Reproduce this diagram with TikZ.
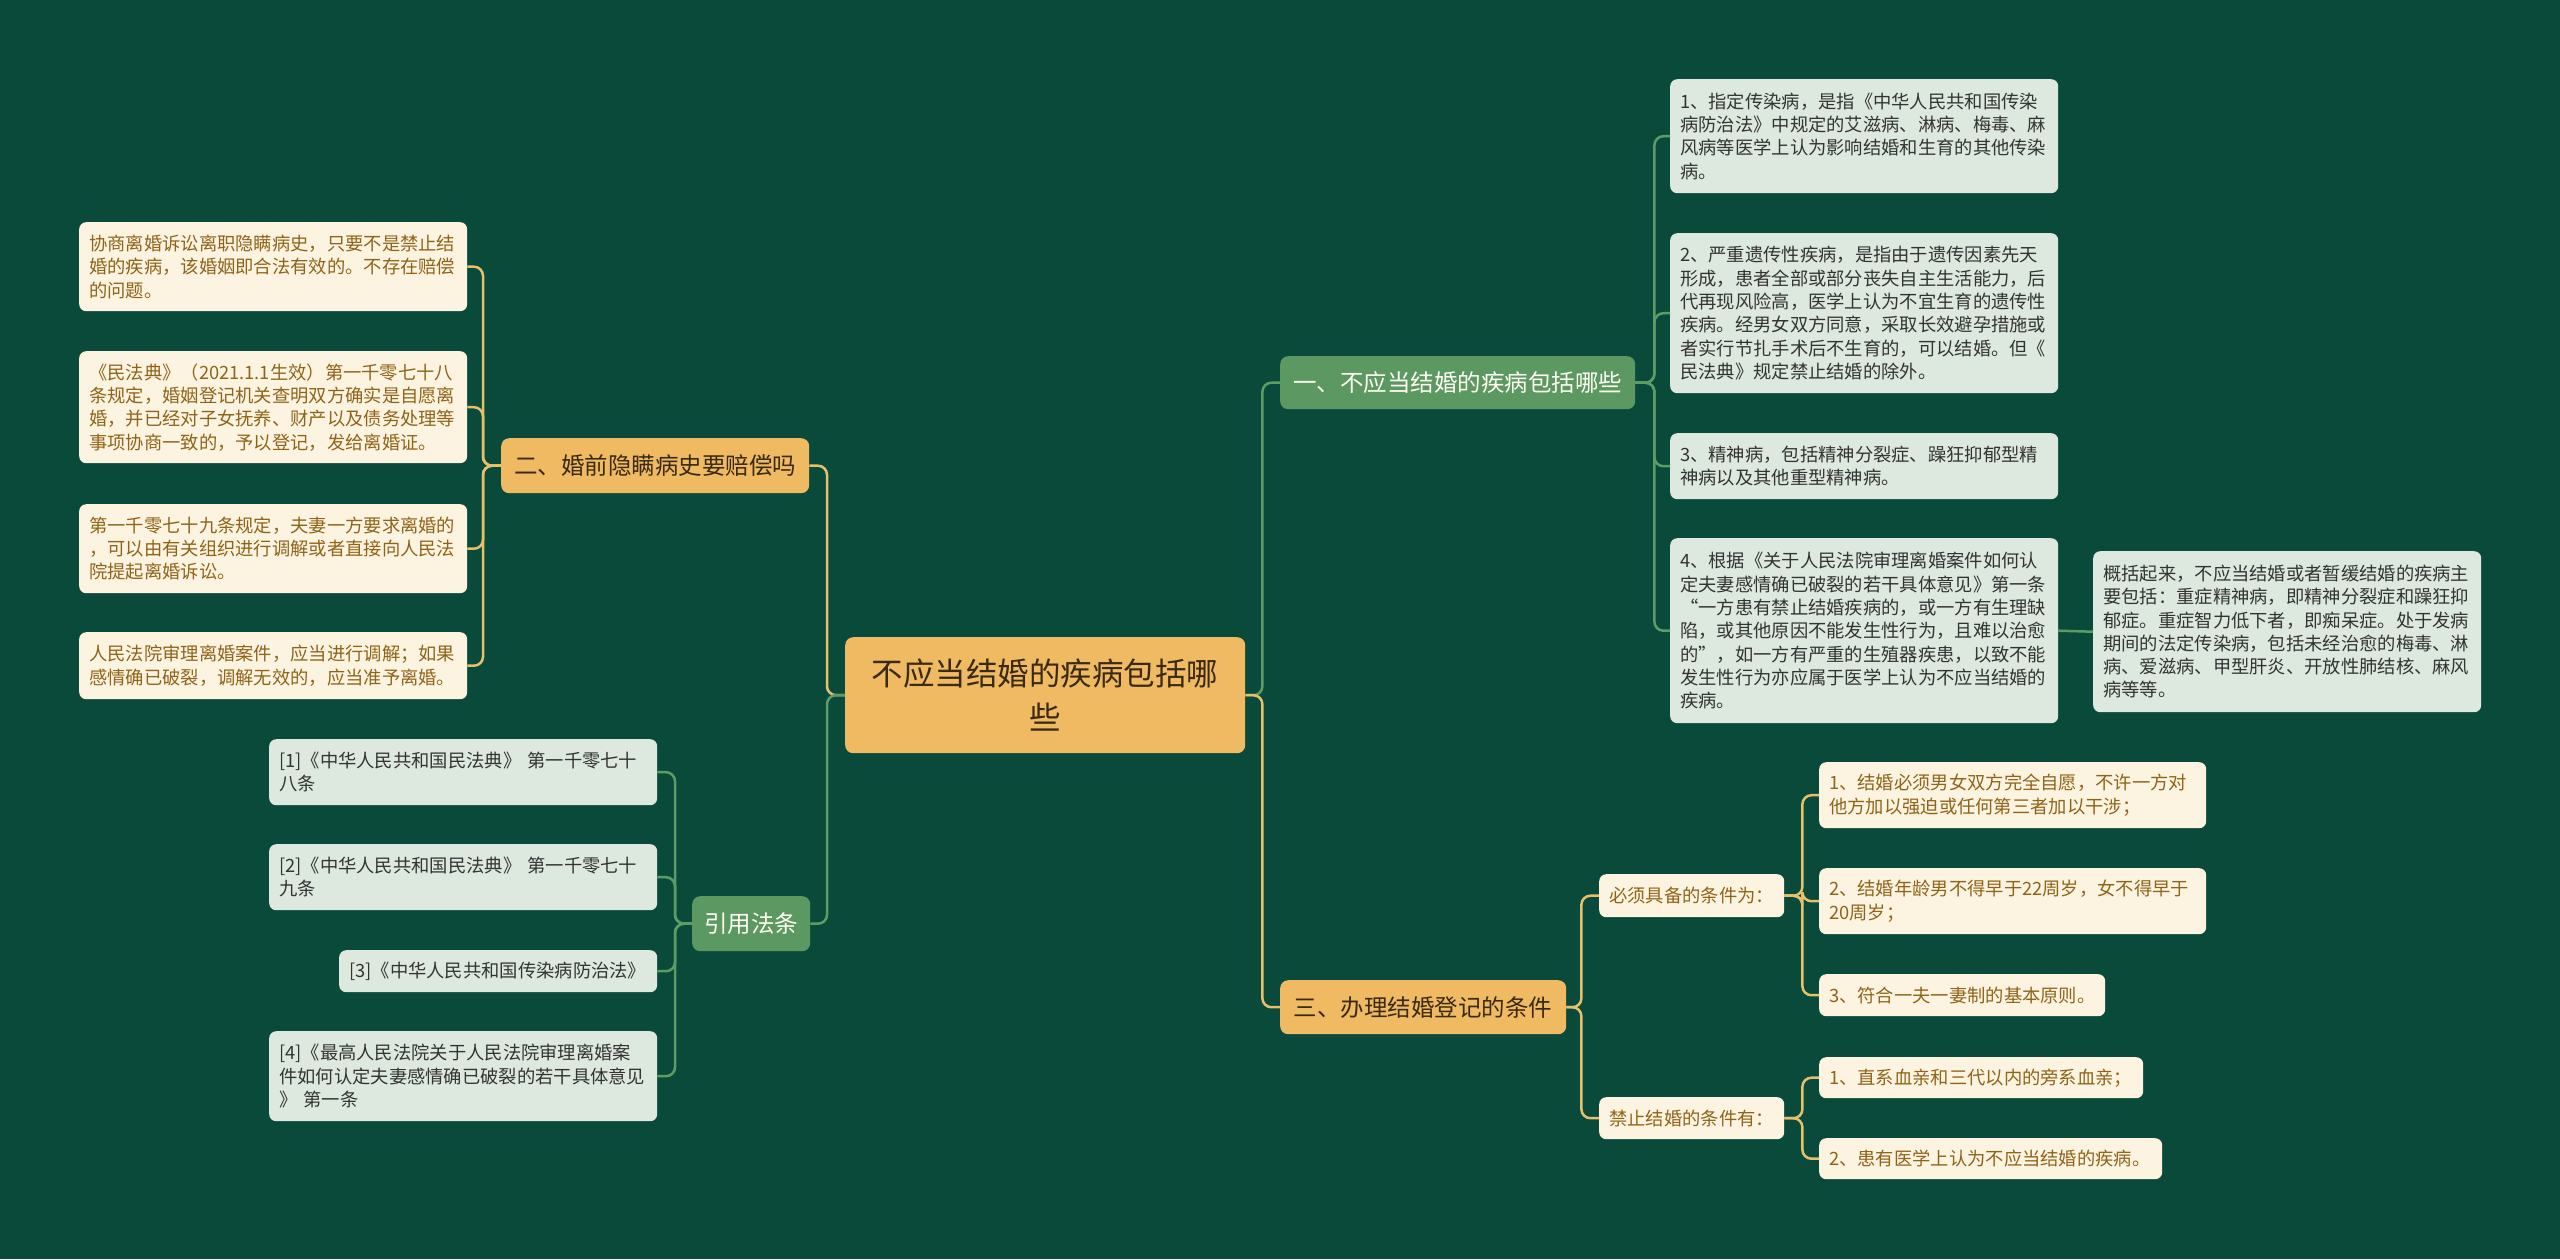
\documentclass[tikz,border=0pt]{standalone}
\usepackage{fontspec}
\setmainfont{Noto Sans CJK SC}
\usepackage{tikz}
\usepackage{xcolor}
\usetikzlibrary{positioning}
\definecolor{bg}{HTML}{0A4A3A}
\definecolor{orng}{HTML}{F0BA62}
\definecolor{grn}{HTML}{5B9862}
\definecolor{pale}{HTML}{DDE9DF}
\definecolor{cream}{HTML}{FDF3E1}
\definecolor{goldtxt}{HTML}{8F6418}
\definecolor{darktxt}{HTML}{3A2A12}
\definecolor{goldln}{HTML}{E6C06A}
\definecolor{grnln}{HTML}{5E9C66}
\tikzset{
  box/.style={anchor=north west,rounded corners=7pt,inner xsep=10pt,inner ysep=0pt,align=left,font=\fontsize{18.3}{23.3}\selectfont},
  pbox/.style={box,fill=pale,text=black!80},
  cbox/.style={box,fill=cream,text=goldtxt},
  obox/.style={anchor=north west,rounded corners=8pt,fill=orng,text=darktxt,inner sep=0pt,align=center,font=\fontsize{23.5}{28}\selectfont},
  gbox/.style={obox,fill=grn,text=white!95!yellow},
  goldlink/.style={draw=goldln,line width=2.5pt,rounded corners=9pt},
  grnlink/.style={draw=grnln,line width=2.5pt,rounded corners=9pt}
}

\begin{document}
\begin{tikzpicture}[x=1pt,y=-1pt]
\fill[bg] (0,0) rectangle (2560,1259);
\useasboundingbox (0,0) rectangle (2560,1259);

\node[obox,minimum width=400,minimum height=116,font=\fontsize{31.5}{44}\selectfont] (root) at (845,637) {不应当结婚的疾病包括哪\\些};

\node[gbox,minimum width=355,minimum height=53] (b1) at (1280,356) {一、不应当结婚的疾病包括哪些};
\node[obox,minimum width=308,minimum height=55] (b2) at (501,438) {二、婚前隐瞒病史要赔偿吗};
\node[obox,minimum width=286,minimum height=54] (b3) at (1280,980) {三、办理结婚登记的条件};
\node[gbox,minimum width=118,minimum height=55] (cite) at (692,896) {引用法条};

\node[pbox,text width=368pt,minimum height=114] (c1) at (1670,79) {1、指定传染病，是指《中华人民共和国传染\\病防治法》中规定的艾滋病、淋病、梅毒、麻\\风病等医学上认为影响结婚和生育的其他传染\\病。};
\node[pbox,text width=368pt,minimum height=160] (c2) at (1670,233) {2、严重遗传性疾病，是指由于遗传因素先天\\形成，患者全部或部分丧失自主生活能力，后\\代再现风险高，医学上认为不宜生育的遗传性\\疾病。经男女双方同意，采取长效避孕措施或\\者实行节扎手术后不生育的，可以结婚。但《\\民法典》规定禁止结婚的除外。};
\node[pbox,text width=368pt,minimum height=66] (c3) at (1670,433) {3、精神病，包括精神分裂症、躁狂抑郁型精\\神病以及其他重型精神病。};
\node[pbox,text width=368pt,minimum height=185] (c4) at (1670,538) {4、根据《关于人民法院审理离婚案件如何认\\定夫妻感情确已破裂的若干具体意见》第一条\\“一方患有禁止结婚疾病的，或一方有生理缺\\陷，或其他原因不能发生性行为，且难以治愈\\的”，如一方有严重的生殖器疾患，以致不能\\发生性行为亦应属于医学上认为不应当结婚的\\疾病。};
\node[pbox,text width=368pt,minimum height=161] (summ) at (2093,551) {概括起来，不应当结婚或者暂缓结婚的疾病主\\要包括：重症精神病，即精神分裂症和躁狂抑\\郁症。重症智力低下者，即痴呆症。处于发病\\期间的法定传染病，包括未经治愈的梅毒、淋\\病、爱滋病、甲型肝炎、开放性肺结核、麻风\\病等等。};

\node[cbox,text width=368pt,minimum height=89] (l1) at (79,222) {协商离婚诉讼离职隐瞒病史，只要不是禁止结\\婚的疾病，该婚姻即合法有效的。不存在赔偿\\的问题。};
\node[cbox,text width=368pt,minimum height=112] (l2) at (79,351) {《民法典》（2021.1.1生效）第一千零七十八\\条规定，婚姻登记机关查明双方确实是自愿离\\婚，并已经对子女抚养、财产以及债务处理等\\事项协商一致的，予以登记，发给离婚证。};
\node[cbox,text width=368pt,minimum height=89] (l3) at (79,504) {第一千零七十九条规定，夫妻一方要求离婚的\\，可以由有关组织进行调解或者直接向人民法\\院提起离婚诉讼。};
\node[cbox,text width=368pt,minimum height=67] (l4) at (79,632) {人民法院审理离婚案件，应当进行调解；如果\\感情确已破裂，调解无效的，应当准予离婚。};

\node[pbox,text width=368pt,minimum height=66] (r1) at (269,739) {[1]《中华人民共和国民法典》 第一千零七十\\八条};
\node[pbox,text width=368pt,minimum height=66] (r2) at (269,844) {[2]《中华人民共和国民法典》 第一千零七十\\九条};
\node[pbox,text width=298pt,minimum height=42] (r3) at (339,950) {[3]《中华人民共和国传染病防治法》};
\node[pbox,text width=368pt,minimum height=90] (r4) at (269,1031) {[4]《最高人民法院关于人民法院审理离婚案\\件如何认定夫妻感情确已破裂的若干具体意见\\》 第一条};

\node[cbox,text width=165pt,minimum height=43] (s1) at (1599,874) {必须具备的条件为：};
\node[cbox,text width=165pt,minimum height=42] (s2) at (1599,1097) {禁止结婚的条件有：};
\node[cbox,text width=367pt,minimum height=66] (m1) at (1819,762) {1、结婚必须男女双方完全自愿，不许一方对\\他方加以强迫或任何第三者加以干涉；};
\node[cbox,text width=367pt,minimum height=66] (m2) at (1819,868) {2、结婚年龄男不得早于22周岁，女不得早于\\20周岁；};
\node[cbox,text width=266pt,minimum height=42] (m3) at (1819,974) {3、符合一夫一妻制的基本原则。};
\node[cbox,text width=304pt,minimum height=41] (f1) at (1819,1057) {1、直系血亲和三代以内的旁系血亲；};
\node[cbox,text width=323pt,minimum height=41] (f2) at (1819,1138) {2、患有医学上认为不应当结婚的疾病。};

\draw[goldlink] (root.west) -- ++(-18,0) |- (b2.east);
\draw[grnlink] (root.west) -- ++(-18,0) |- (cite.east);
\draw[grnlink] (root.east) -- ++(17,0) |- (b1.west);
\draw[goldlink] (root.east) -- ++(17,0) |- (b3.west);

\draw[grnlink] (b1.east) -- ++(19,0) |- (c1.west);
\draw[grnlink] (b1.east) -- ++(19,0) |- (c2.west);
\draw[grnlink] (b1.east) -- ++(19,0) |- (c3.west);
\draw[grnlink] (b1.east) -- ++(19,0) |- (c4.west);
\draw[grnlink] (c4.east) -- (summ.west);

\draw[goldlink] (b2.west) -- ++(-18,0) |- (l1.east);
\draw[goldlink] (b2.west) -- ++(-18,0) |- (l2.east);
\draw[goldlink] (b2.west) -- ++(-18,0) |- (l3.east);
\draw[goldlink] (b2.west) -- ++(-18,0) |- (l4.east);

\draw[grnlink] (cite.west) -- ++(-17,0) |- (r1.east);
\draw[grnlink] (cite.west) -- ++(-17,0) |- (r2.east);
\draw[grnlink] (cite.west) -- ++(-17,0) |- (r3.east);
\draw[grnlink] (cite.west) -- ++(-17,0) |- (r4.east);

\draw[goldlink] (b3.east) -- ++(15,0) |- (s1.west);
\draw[goldlink] (b3.east) -- ++(15,0) |- (s2.west);
\draw[goldlink] (s1.east) -- ++(18,0) |- (m1.west);
\draw[goldlink] (s1.east) -- ++(18,0) |- (m2.west);
\draw[goldlink] (s1.east) -- ++(18,0) |- (m3.west);
\draw[goldlink] (s2.east) -- ++(18,0) |- (f1.west);
\draw[goldlink] (s2.east) -- ++(18,0) |- (f2.west);
\end{tikzpicture}
\end{document}
